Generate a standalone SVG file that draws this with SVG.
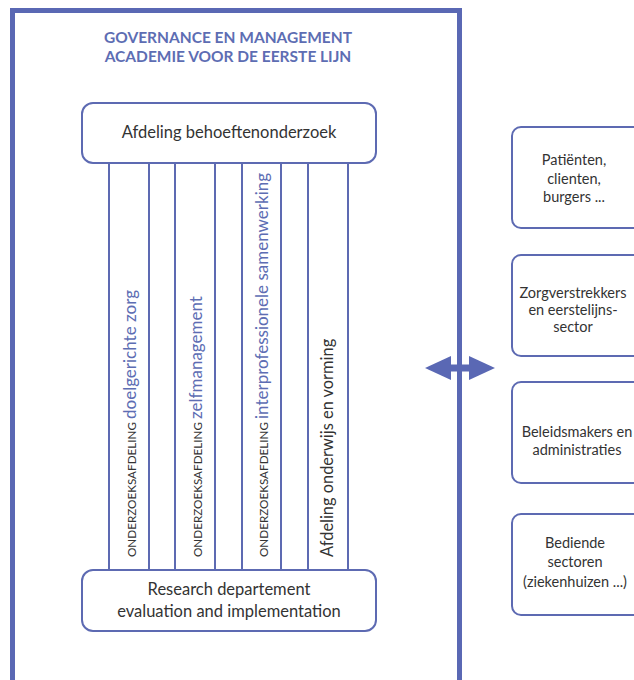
<svg xmlns="http://www.w3.org/2000/svg" width="634" height="680" viewBox="0 0 634 680">
<style>
.frame{fill:none;stroke:#5a68b4;stroke-width:5}
.box{fill:#fff;stroke:#5d6ab2;stroke-width:2}
.col{stroke:#5d6ab2;stroke-width:2}
.title{font-family:Lato,"Liberation Sans",sans-serif;font-weight:bold;font-size:15.5px;fill:#5d6db3;text-anchor:middle}
.lbl{font-family:Lato,"Liberation Sans",sans-serif;font-size:16.5px;fill:#333;text-anchor:middle}
.side{font-family:Lato,"Liberation Sans",sans-serif;font-size:14.5px;fill:#333;text-anchor:middle}
.small{font-family:Lato,"Liberation Sans",sans-serif;font-size:11.7px;fill:#333}
.big{font-size:17px;fill:#5d6db3}
.vdark{font-family:Lato,"Liberation Sans",sans-serif;font-size:16.4px;fill:#333}
.arrow{fill:#5a68b4}
</style>
<rect width="634" height="680" fill="#fff"/>
<path class="frame" d="M12.5,690 V10.5 H459.5 V690"/>
<g id="title">
<text class="title" x="228" y="43">GOVERNANCE EN MANAGEMENT</text>
<text class="title" x="228" y="62">ACADEMIE VOOR DE EERSTE LIJN</text>
</g>
<g id="connectors">
<line class="col" x1="109" y1="163" x2="109" y2="570"/>
<line class="col" x1="149" y1="163" x2="149" y2="570"/>
<line class="col" x1="175" y1="163" x2="175" y2="570"/>
<line class="col" x1="215" y1="163" x2="215" y2="570"/>
<line class="col" x1="242" y1="163" x2="242" y2="570"/>
<line class="col" x1="281" y1="163" x2="281" y2="570"/>
<line class="col" x1="308" y1="163" x2="308" y2="570"/>
<line class="col" x1="348" y1="163" x2="348" y2="570"/>
<g id="double-arrow">
<polygon class="arrow" points="425,368 451,356 451,380"/>
<polygon class="arrow" points="495,368 469,356 469,380"/>
<rect class="arrow" x="450" y="364.5" width="20" height="7"/>
</g>
</g>
<g id="top-box">
<rect class="box" x="82" y="103" width="294" height="60" rx="11"/>
<text class="lbl" x="229" y="138">Afdeling behoeftenonderzoek</text>
</g>
<g id="bottom-box">
<rect class="box" x="82" y="570" width="294" height="61" rx="11"/>
<text class="lbl" x="229" y="595">Research departement</text>
<text class="lbl" x="229" y="617">evaluation and implementation</text>
</g>
<g id="col-doelgerichte">
<text class="small" transform="translate(136,557) rotate(-90)">ONDERZOEKSAFDELING <tspan class="big">doelgerichte zorg</tspan></text>
</g>
<g id="col-zelfmanagement">
<text class="small" transform="translate(202,557) rotate(-90)">ONDERZOEKSAFDELING <tspan class="big">zelfmanagement</tspan></text>
</g>
<g id="col-interprofessionele">
<text class="small" transform="translate(268,557) rotate(-90)">ONDERZOEKSAFDELING <tspan class="big">interprofessionele samenwerking</tspan></text>
</g>
<g id="col-onderwijs">
<text class="vdark" transform="translate(333,557) rotate(-90)">Afdeling onderwijs en vorming</text>
</g>
<g id="box-patienten">
<rect class="box" x="512" y="127" width="140" height="101" rx="9"/>
<text class="side" x="574" y="165">Patiënten,</text>
<text class="side" x="574" y="183.5">clienten,</text>
<text class="side" x="574" y="202">burgers ...</text>
</g>
<g id="box-zorgverstrekkers">
<rect class="box" x="512" y="255" width="140" height="101" rx="9"/>
<text class="side" x="573" y="298">Zorgverstrekkers</text>
<text class="side" x="573" y="315">en eerstelijns-</text>
<text class="side" x="573" y="332">sector</text>
</g>
<g id="box-beleidsmakers">
<rect class="box" x="512" y="382" width="140" height="101" rx="9"/>
<text class="side" x="577" y="437">Beleidsmakers en</text>
<text class="side" x="577" y="455">administraties</text>
</g>
<g id="box-bediende">
<rect class="box" x="512" y="514" width="140" height="101" rx="9"/>
<text class="side" x="575" y="548">Bediende</text>
<text class="side" x="575" y="567">sectoren</text>
<text class="side" x="575" y="587">(ziekenhuizen ...)</text>
</g>
</svg>
